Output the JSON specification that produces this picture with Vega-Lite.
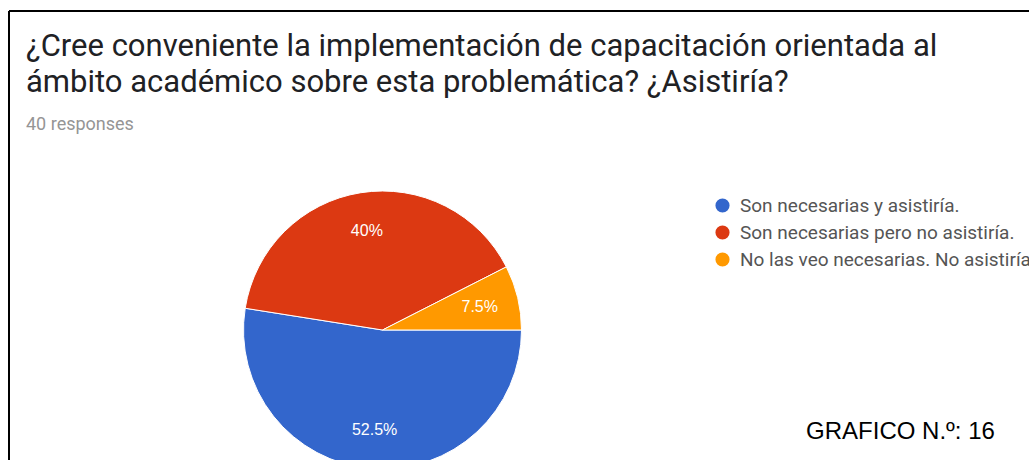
{
  "$schema": "https://vega.github.io/schema/vega-lite/v6.json",
  "background": "white",
  "padding": {"left": 8, "top": 10, "right": 0, "bottom": 0},
  "config": {"view": {"stroke": null}},
  "title": {
    "text": ["¿Cree conveniente la implementación de capacitación orientada al", "ámbito académico sobre esta problemática? ¿Asistiría?"],
    "subtitle": "40 responses",
    "anchor": "start",
    "frame": "bounds",
    "font": "Roboto",
    "fontSize": 31,
    "fontWeight": "normal",
    "color": "#202124",
    "lineHeight": 36,
    "subtitleFont": "Roboto",
    "subtitleFontSize": 18,
    "subtitleColor": "#959595",
    "subtitlePadding": 17,
    "offset": 0,
    "dx": 18,
    "dy": 125
  },
  "spacing": 0,
  "bounds": "flush",
  "hconcat": [
    {
      "width": 747,
      "height": 638,
      "view": {"stroke": "black", "strokeWidth": 2, "strokeDash": [747, 1385, 638, 0]},
      "data": {
        "values": [
          {"respuesta": "Son necesarias y asistiría.", "porcentaje": 52.5, "etiqueta": "52.5%", "orden": 1},
          {"respuesta": "Son necesarias pero no asistiría.", "porcentaje": 40, "etiqueta": "40%", "orden": 2},
          {"respuesta": "No las veo necesarias. No asistiría", "porcentaje": 7.5, "etiqueta": "7.5%", "orden": 3}
        ]
      },
      "encoding": {
        "theta": {"field": "porcentaje", "type": "quantitative", "stack": true, "scale": {"range": [1.5708, 7.854]}},
        "order": {"field": "orden", "type": "quantitative"}
      },
      "layer": [
        {
          "mark": {"type": "arc", "outerRadius": 139, "stroke": "white", "strokeWidth": 1},
          "encoding": {
            "color": {
              "field": "respuesta",
              "type": "nominal",
              "sort": ["Son necesarias y asistiría.", "Son necesarias pero no asistiría.", "No las veo necesarias. No asistiría"],
              "scale": {"domain": ["Son necesarias y asistiría.", "Son necesarias pero no asistiría.", "No las veo necesarias. No asistiría"], "range": ["#3366cc", "#dc3912", "#ff9900"]},
              "legend": {
                "title": null,
                "orient": "none",
                "legendX": 704,
                "legendY": 185,
                "symbolType": "circle",
                "symbolSize": 200,
                "symbolStrokeWidth": 0,
                "symbolOpacity": 1,
                "labelFont": "Roboto",
                "labelFontSize": 19,
                "labelColor": "#555555",
                "labelLimit": 500,
                "labelOffset": 8,
                "rowPadding": 7
              }
            }
          }
        },
        {
          "mark": {"type": "text", "radius": 100, "fill": "white", "font": "Liberation Sans", "fontSize": 16},
          "encoding": {
            "text": {"field": "etiqueta", "type": "nominal"},
            "detail": {"field": "respuesta", "type": "nominal"}
          }
        }
      ]
    },
    {
      "width": 289,
      "height": 842,
      "view": {"stroke": "black", "strokeWidth": 2, "strokeDash": [289, 5000]},
      "data": {"values": [{"nota": "GRAFICO N.º: 16"}]},
      "mark": {"type": "text", "font": "Liberation Sans", "fontSize": 24, "color": "black"},
      "encoding": {"text": {"field": "nota", "type": "nominal"}}
    }
  ]
}
